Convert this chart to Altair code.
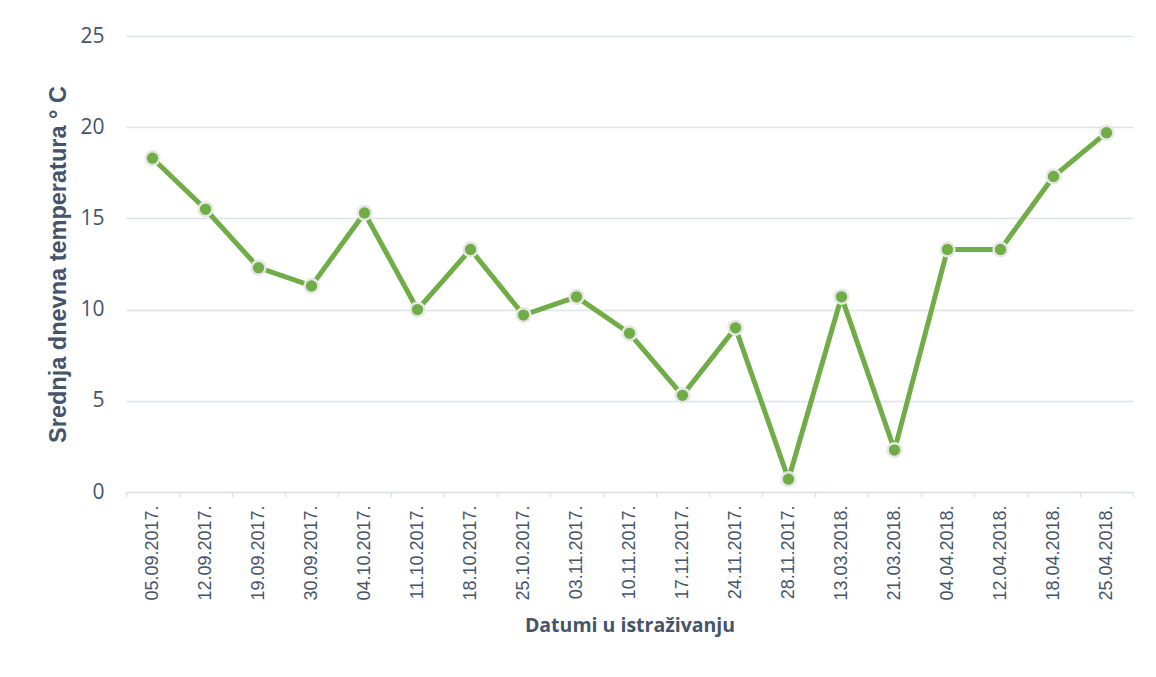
import altair as alt
import pandas as pd

dates = ["05.09.2017.", "12.09.2017.", "19.09.2017.", "30.09.2017.", "04.10.2017.",
         "11.10.2017.", "18.10.2017.", "25.10.2017.", "03.11.2017.", "10.11.2017.",
         "17.11.2017.", "24.11.2017.", "28.11.2017.", "13.03.2018.", "21.03.2018.",
         "04.04.2018.", "12.04.2018.", "18.04.2018.", "25.04.2018."]
temps = [18.3, 15.5, 12.3, 11.3, 15.3, 10.0, 13.3, 9.7, 10.7, 8.7,
         5.3, 9.0, 0.7, 10.7, 2.3, 13.3, 13.3, 17.3, 19.7]

df = pd.DataFrame({"datum": dates, "temp": temps, "order": list(range(len(dates)))})

TEXT = "#44546a"
GRID = "#dfe3e8"
GREEN = "#70ad47"

x = alt.X("datum:N", sort=dates,
          scale=alt.Scale(type="band", paddingInner=0, paddingOuter=0),
          axis=alt.Axis(title="Datumi u istraživanju", labelAngle=-90,
                        labelAlign="right", labelBaseline="middle",
                        labelFont="Liberation Sans", labelFontSize=18, labelColor=TEXT,
                        labelPadding=8, tickBand="extent", tickSize=5, tickColor=GRID,
                        tickWidth=1.5, domainColor=GRID, domainWidth=1.5,
                        titleFont="Open Sans", titleFontSize=19.5, titleFontWeight="bold",
                        titleColor=TEXT, titlePadding=16, grid=False))
y = alt.Y("temp:Q", scale=alt.Scale(domain=[0, 25]),
          axis=alt.Axis(title="Srednja dnevna temperatura ° C", values=[0, 5, 10, 15, 20, 25],
                        labelFont="Open Sans", labelFontSize=21, labelColor=TEXT,
                        labelPadding=22, ticks=False, domain=False,
                        gridColor=GRID, gridWidth=1.5,
                        titleFont="Liberation Sans", titleFontSize=23.5, titleFontWeight="bold",
                        titleColor=TEXT, titlePadding=9))

base = alt.Chart(df).encode(x=x, y=y, order="order:Q")
line = base.mark_line(color=GREEN, strokeWidth=5)
pts = base.mark_point(filled=True, fill=GREEN, stroke="#e6e6e6", strokeWidth=2.5,
                      size=190, opacity=1, shape="circle")

chart = (line + pts).properties(
    width=1007, height=456,
    autosize=alt.AutoSizeParams(type="none"),
    padding={"left": 118, "top": 28, "right": 15, "bottom": 170},
    background="white",
).configure_view(stroke=None)

chart.save("out.html", embed_options={"renderer": "svg", "actions": False})
